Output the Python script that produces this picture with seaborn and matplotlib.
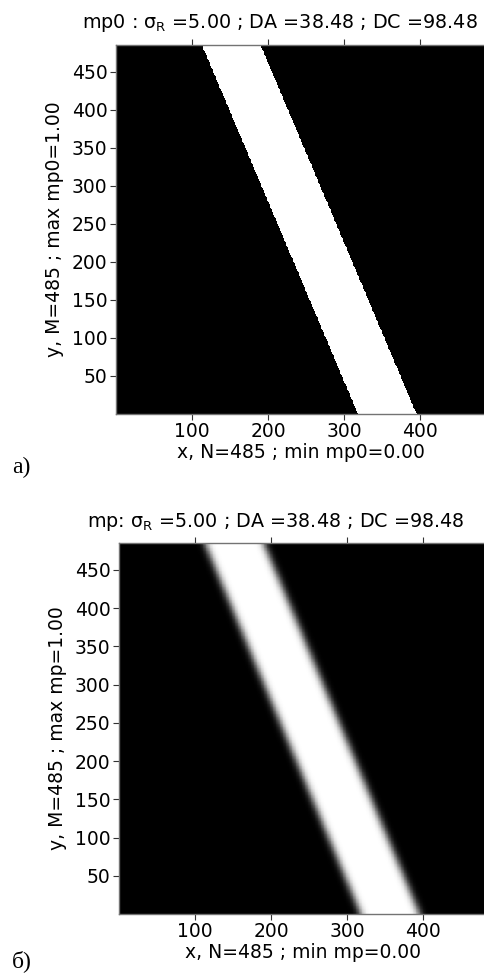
import numpy as np
import matplotlib
matplotlib.use("Agg")
import matplotlib.pyplot as plt
import seaborn as sns

# Grid size and stripe geometry (in pixel units of the field)
N = 485                    # columns (x)
M = 485                    # rows (y)
stripe_left_top = 113.0    # left edge of the stripe at y = M
stripe_left_bottom = 318.0 # left edge of the stripe at y = 0
stripe_width = 77.0        # horizontal width of the stripe
sigma_R = 5.0              # Gaussian smoothing radius
DA = 38.48
DC = 98.48

x_ticks = [100, 200, 300, 400]
y_ticks = [50, 100, 150, 200, 250, 300, 350, 400, 450]

# Binary field mp0: 1 inside the slanted stripe, 0 outside
xc = np.arange(N) + 0.5
yc = np.arange(M) + 0.5
X, Y = np.meshgrid(xc, yc)
left = stripe_left_bottom + (stripe_left_top - stripe_left_bottom) * Y / M
mp0 = ((X >= left) & (X <= left + stripe_width)).astype(float)


def gauss_smooth(a, s):
    r = int(4 * s)
    t = np.arange(-r, r + 1)
    k = np.exp(-t ** 2 / (2 * s ** 2))
    k /= k.sum()
    p = np.pad(a, r, mode="edge")
    p = np.apply_along_axis(lambda v: np.convolve(v, k, mode="valid"), 1, p)
    p = np.apply_along_axis(lambda v: np.convolve(v, k, mode="valid"), 0, p)
    return p


mp = gauss_smooth(mp0, sigma_R)

sns.set_theme(style="white")
plt.rcParams["font.family"] = ["DejaVu Sans"]
plt.rcParams["mathtext.fontset"] = "dejavusans"
plt.rcParams["text.color"] = "black"
plt.rcParams["axes.labelcolor"] = "black"
plt.rcParams["xtick.color"] = "black"
plt.rcParams["ytick.color"] = "black"

W, H = 485, 974
fig = plt.figure(figsize=(W / 100, H / 100), dpi=100)
fig.patch.set_facecolor("white")

FS_TICK = 13.5
FS_LABEL = 13.5
FS_TITLE = 13.8


def panel(field, rect, name, title_x, title_y, tag, tag_y):
    ax = fig.add_axes([rect[0] / W, 1 - rect[3] / H,
                       (rect[2] - rect[0]) / W, (rect[3] - rect[1]) / H])
    sns.heatmap(field, ax=ax, cmap="gray", vmin=0, vmax=1, cbar=False,
                xticklabels=False, yticklabels=False, rasterized=True)
    ax.set_xlim(0, N)
    ax.set_ylim(0, M)
    for s in ax.spines.values():
        s.set_visible(True)
        s.set_color("0.45")
        s.set_linewidth(1.0)
    ax.set_xticks(x_ticks)
    ax.set_xticklabels([str(v) for v in x_ticks])
    ax.set_yticks(y_ticks)
    ax.set_yticklabels([str(v) for v in y_ticks], rotation=0)
    ax.tick_params(axis="both", which="both", direction="out", length=4,
                   width=0.8, color="0.2", labelcolor="black",
                   labelsize=FS_TICK, pad=2,
                   top=True, right=True, bottom=True, left=True,
                   labeltop=False, labelright=False)
    ax.set_xlabel(f"x, N={N} ; min {name}={field.min():.2f}",
                  fontsize=FS_LABEL, labelpad=1, color="black")
    ax.set_ylabel(f"y, M={M} ; max {name}={field.max():.2f}",
                  fontsize=FS_LABEL, labelpad=6, color="black")
    sep = " : " if name == "mp0" else ": "
    fig.text(title_x / W, 1 - title_y / H,
             name + sep + r"$\mathregular{\sigma_R}$" +
             f" ={sigma_R:.2f} ; DA ={DA:.2f} ; DC ={DC:.2f}",
             ha="center", va="baseline", fontsize=FS_TITLE, color="black")
    fig.text(12 / W, 1 - tag_y / H, tag, ha="left", va="baseline",
             fontsize=17, color="black",
             family=["Liberation Serif", "DejaVu Serif"])
    return ax


panel(mp0, (116, 45, 485, 414), "mp0", 280, 28, "a)", 473)
panel(mp, (119, 543, 488, 914), "mp", 276, 527, "б)", 967)

fig.savefig("out.png", dpi=100, facecolor="white")
